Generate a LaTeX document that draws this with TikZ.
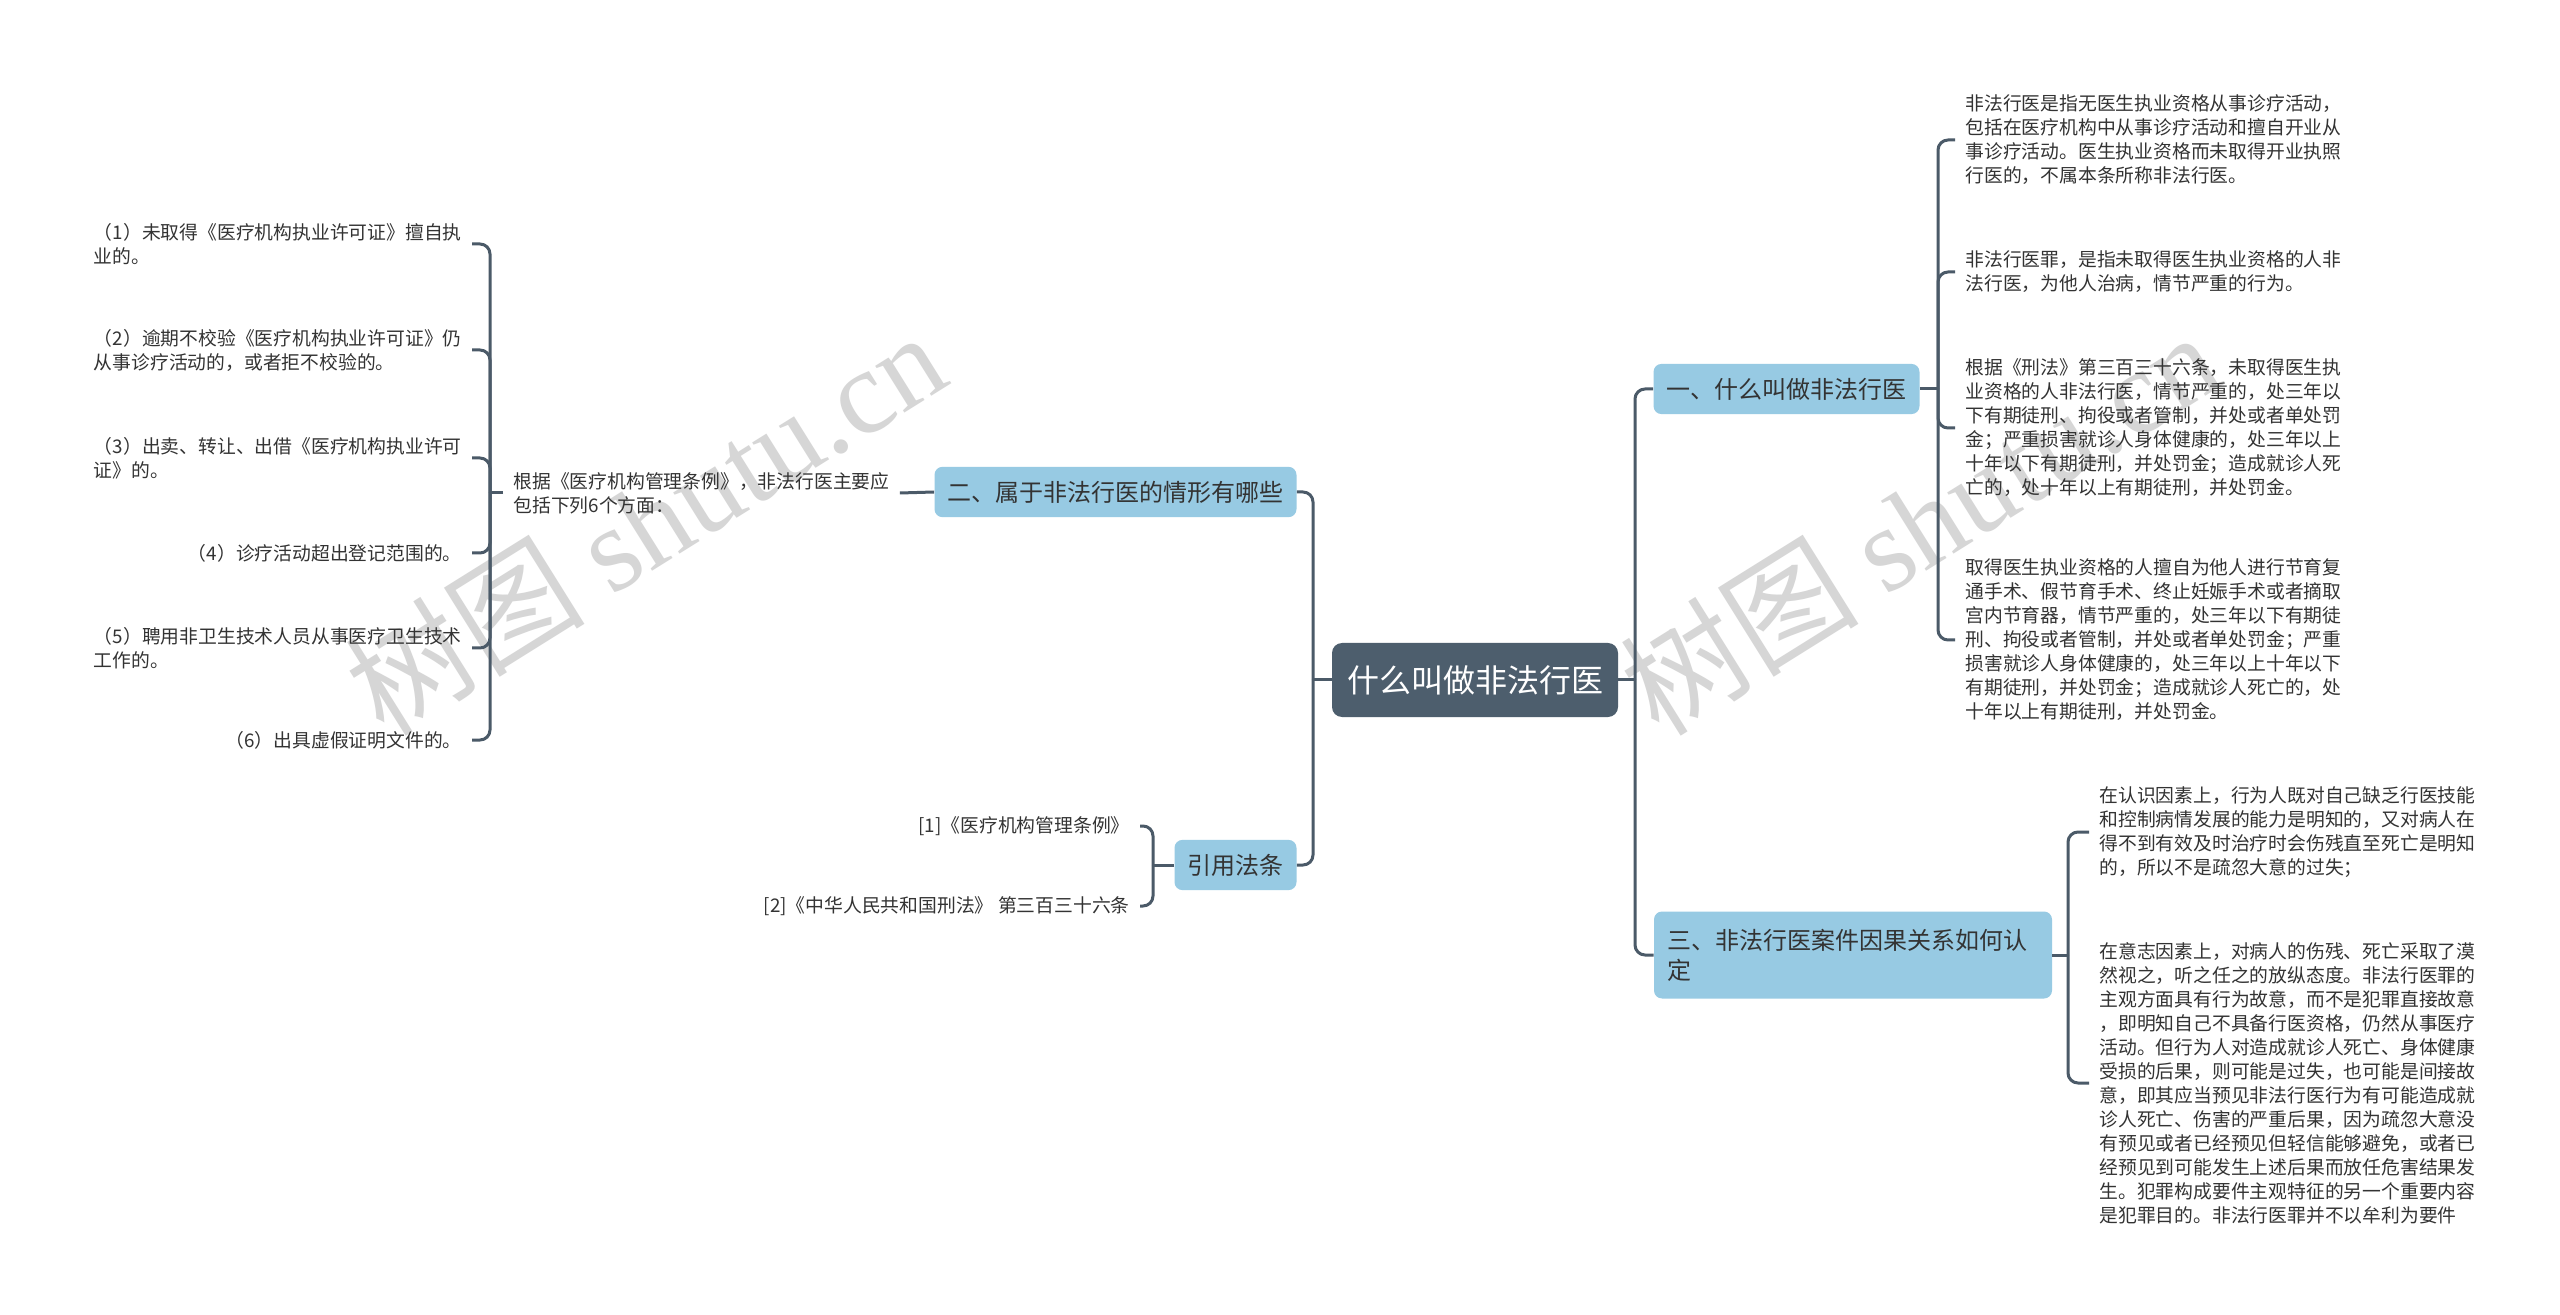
\documentclass[tikz,border=0pt]{standalone}
\usepackage{fontspec}
\setmainfont{Noto Sans CJK SC}
\newfontfamily\wmlatin{Liberation Serif}
\usepackage{xcolor}
\usepackage{tikz}
\usetikzlibrary{positioning}
\definecolor{mInk}{HTML}{333333}
\definecolor{mLine}{HTML}{4B5A68}
\definecolor{mRoot}{HTML}{4D5E6D}
\definecolor{mFill}{HTML}{97CAE3}
\definecolor{mMark}{HTML}{D6D6D6}

\begin{document}
\begin{tikzpicture}[x=0.5pt, y=-0.5pt,
  conn/.style={draw=mLine, line width=1.5pt, rounded corners=5pt},
  topic/.style={fill=mFill, rounded corners=4pt, text=mInk, font=\fontsize{12}{15}\selectfont, inner xsep=6.5pt, inner ysep=7pt},
  leaf/.style={text=mInk, font=\fontsize{9.4}{12}\selectfont, align=left, inner xsep=5pt, inner ysep=0pt},
  wmark/.style={text=mMark, font=\fontsize{60}{60}\selectfont, inner sep=0pt, rotate=32}]
  \useasboundingbox (0,0) rectangle (2560,1315);
  \fill[white] (0,0) rectangle (2560,1315);
  \node[wmark] (w1) at (645,522) {树图 {\wmlatin shutu.cn}};
  \node[wmark] (w2) at (1919,522) {树图 {\wmlatin shutu.cn}};

  \node[fill=mRoot, rounded corners=5pt, text=white, font=\fontsize{16}{19}\selectfont, minimum width=143pt, minimum height=37pt] (root) at (1475,680) {什么叫做非法行医};
  \node[topic] (one) at (1786.5,389) {一、什么叫做非法行医};
  \node[topic] (two) at (1115.5,492) {二、属于非法行医的情形有哪些};
  \node[topic, text width=186pt, align=left, minimum height=43.5pt] (three) at (1853,955) {三、非法行医案件因果关系如何认\\定};
  \node[topic] (refs) at (1235.5,865) {引用法条};

  \coordinate (rj) at (1635,680);
  \coordinate (lj) at (1313,680);
  \draw[conn] (root.east) -- (rj);
  \draw[conn] (rj) |- (one.west);
  \draw[conn] (rj) |- (three.west);
  \draw[conn] (root.west) -- (lj);
  \draw[conn] (lj) |- (two.east);
  \draw[conn] (lj) |- (refs.east);

  \node[leaf, anchor=west] (p1) at (1955,140) {非法行医是指无医生执业资格从事诊疗活动，\\包括在医疗机构中从事诊疗活动和擅自开业从\\事诊疗活动。医生执业资格而未取得开业执照\\行医的，不属本条所称非法行医。};
  \node[leaf, anchor=west] (p2) at (1955,272) {非法行医罪，是指未取得医生执业资格的人非\\法行医，为他人治病，情节严重的行为。};
  \node[leaf, anchor=west] (p3) at (1955,428) {根据《刑法》第三百三十六条，未取得医生执\\业资格的人非法行医，情节严重的，处三年以\\下有期徒刑、拘役或者管制，并处或者单处罚\\金；严重损害就诊人身体健康的，处三年以上\\十年以下有期徒刑，并处罚金；造成就诊人死\\亡的，处十年以上有期徒刑，并处罚金。};
  \node[leaf, anchor=west] (p4) at (1955,640) {取得医生执业资格的人擅自为他人进行节育复\\通手术、假节育手术、终止妊娠手术或者摘取\\宫内节育器，情节严重的，处三年以下有期徒\\刑、拘役或者管制，并处或者单处罚金；严重\\损害就诊人身体健康的，处三年以上十年以下\\有期徒刑，并处罚金；造成就诊人死亡的，处\\十年以上有期徒刑，并处罚金。};
  \coordinate (j1) at (1938,389);
  \draw[conn] (one.east) -- (j1);
  \foreach \p in {p1,p2,p3,p4} \draw[conn] (j1) |- (\p.west);

  \node[leaf, anchor=west] (q1) at (2089,832) {在认识因素上，行为人既对自己缺乏行医技能\\和控制病情发展的能力是明知的，又对病人在\\得不到有效及时治疗时会伤残直至死亡是明知\\的，所以不是疏忽大意的过失；};
  \node[leaf, anchor=west] (q2) at (2089,1083) {在意志因素上，对病人的伤残、死亡采取了漠\\然视之，听之任之的放纵态度。非法行医罪的\\主观方面具有行为故意，而不是犯罪直接故意\\，即明知自己不具备行医资格，仍然从事医疗\\活动。但行为人对造成就诊人死亡、身体健康\\受损的后果，则可能是过失，也可能是间接故\\意，即其应当预见非法行医行为有可能造成就\\诊人死亡、伤害的严重后果，因为疏忽大意没\\有预见或者已经预见但轻信能够避免，或者已\\经预见到可能发生上述后果而放任危害结果发\\生。犯罪构成要件主观特征的另一个重要内容\\是犯罪目的。非法行医罪并不以牟利为要件};
  \coordinate (j3) at (2068,955);
  \draw[conn] (three.east) -- (j3);
  \foreach \q in {q1,q2} \draw[conn] (j3) |- (\q.west);

  \node[leaf, anchor=west] (basis) at (503,493) {根据《医疗机构管理条例》，非法行医主要应\\包括下列6个方面：};
  \draw[conn] (two.west) -- (basis.east);
  \node[leaf, anchor=east] (i1) at (472,244) {（1）未取得《医疗机构执业许可证》擅自执\\业的。};
  \node[leaf, anchor=east] (i2) at (472,350) {（2）逾期不校验《医疗机构执业许可证》仍\\从事诊疗活动的，或者拒不校验的。};
  \node[leaf, anchor=east] (i3) at (472,458) {（3）出卖、转让、出借《医疗机构执业许可\\证》的。};
  \node[leaf, anchor=east] (i4) at (472,553) {（4）诊疗活动超出登记范围的。};
  \node[leaf, anchor=east] (i5) at (472,648) {（5）聘用非卫生技术人员从事医疗卫生技术\\工作的。};
  \node[leaf, anchor=east] (i6) at (472,740) {（6）出具虚假证明文件的。};
  \coordinate (j2) at (490,493);
  \draw[conn] (basis.west) -- (j2);
  \foreach \i in {i1,i2,i3,i4,i5,i6} \draw[conn] (j2) |- (\i.east);

  \node[leaf, anchor=east] (r1) at (1140,826) {[1]《医疗机构管理条例》};
  \node[leaf, anchor=east] (r2) at (1140,906) {[2]《中华人民共和国刑法》 第三百三十六条};
  \coordinate (j4) at (1153,865);
  \draw[conn] (refs.west) -- (j4);
  \foreach \r in {r1,r2} \draw[conn] (j4) |- (\r.east);
\end{tikzpicture}
\end{document}
